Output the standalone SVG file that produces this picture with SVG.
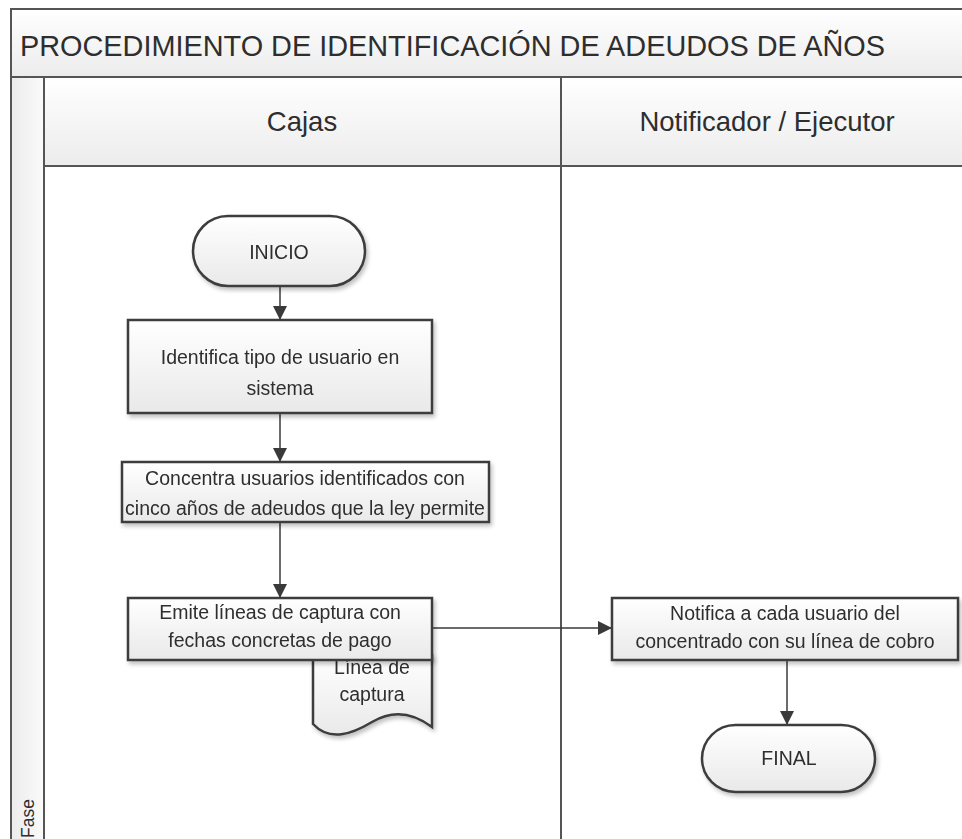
<svg xmlns="http://www.w3.org/2000/svg" width="962" height="839" viewBox="0 0 962 839">
<defs>
<linearGradient id="gv" x1="0" y1="0" x2="0" y2="1"><stop offset="0" stop-color="#ffffff"/><stop offset="1" stop-color="#ececec"/></linearGradient>
<linearGradient id="gh" x1="0" y1="0" x2="1" y2="0"><stop offset="0" stop-color="#ececec"/><stop offset="1" stop-color="#fafafa"/></linearGradient>
<linearGradient id="gn" x1="0" y1="0" x2="0" y2="1"><stop offset="0" stop-color="#ffffff"/><stop offset="1" stop-color="#e9e9e9"/></linearGradient>
<marker id="arr" viewBox="0 0 14 14" refX="14" refY="7" markerWidth="14" markerHeight="14" markerUnits="userSpaceOnUse" orient="auto"><path d="M0,0 L14,7 L0,14 Z" fill="#3a3a3a"/></marker>
<filter id="sh" x="-10%" y="-10%" width="130%" height="140%"><feGaussianBlur in="SourceAlpha" stdDeviation="2"/><feOffset dx="2" dy="3"/><feComponentTransfer><feFuncA type="linear" slope="0.25"/></feComponentTransfer><feMerge><feMergeNode/><feMergeNode in="SourceGraphic"/></feMerge></filter>
</defs>
<style>
.frame{stroke:#555;stroke-width:2;}
.box{fill:url(#gn);stroke:#3c3c3c;stroke-width:2.5;}
.t{font-family:"Liberation Sans",Arial,sans-serif;fill:#2e2e2e;}
.n{font-size:19.5px;text-anchor:middle;}
.h{font-size:27.5px;text-anchor:middle;}
.c{stroke:#3a3a3a;stroke-width:1.5;fill:none;marker-end:url(#arr);}
</style>
<rect width="962" height="839" fill="#ffffff"/>
<g id="pool">
<rect x="11" y="9" width="960" height="68" fill="url(#gv)" class="frame"/>
<text class="t" x="20" y="56" font-size="29" textLength="865" lengthAdjust="spacingAndGlyphs">PROCEDIMIENTO DE IDENTIFICACIÓN DE ADEUDOS DE AÑOS</text>
<rect x="11" y="77" width="33" height="770" fill="url(#gh)" class="frame"/>
<rect x="44" y="77" width="517" height="89" fill="url(#gv)" class="frame"/>
<rect x="561" y="77" width="410" height="89" fill="url(#gv)" class="frame"/>
<line x1="561" y1="166" x2="561" y2="845" class="frame"/>
<text class="t h" x="302" y="131">Cajas</text>
<text class="t h" x="767" y="131">Notificador / Ejecutor</text>
<text class="t" transform="translate(34,838) rotate(-90)" font-size="17.5">Fase</text>
</g>
<g id="connectors">
<line x1="280" y1="286" x2="280" y2="320" class="c"/>
<line x1="280" y1="413" x2="280" y2="462" class="c"/>
<line x1="280" y1="522" x2="280" y2="598" class="c"/>
<line x1="432" y1="628" x2="612" y2="628" class="c"/>
<line x1="787" y1="660" x2="787" y2="725" class="c"/>
</g>
<g id="inicio" filter="url(#sh)">
<rect x="193" y="216" width="172" height="70" rx="35" class="box"/>
<text class="t n" x="279" y="259" font-size="18">INICIO</text>
</g>
<g id="identifica" filter="url(#sh)">
<rect x="128" y="320" width="304" height="93" class="box"/>
<text class="t n" x="280" y="364">Identifica tipo de usuario en</text>
<text class="t n" x="280" y="395">sistema</text>
</g>
<g id="concentra" filter="url(#sh)">
<rect x="122" y="462" width="367" height="60" class="box"/>
<text class="t n" x="305" y="485">Concentra usuarios identificados con</text>
<text class="t n" x="305" y="515">cinco años de adeudos que la ley permite</text>
</g>
<g id="linea" filter="url(#sh)">
<path d="M313,655 H432 V727 C412,712 392,710 372,722 C352,734 330,742 313,724 Z" class="box"/>
<text class="t n" x="372" y="674">Línea de</text>
<text class="t n" x="372" y="701">captura</text>
</g>
<g id="emite" filter="url(#sh)">
<rect x="128" y="598" width="304" height="62" class="box"/>
<text class="t n" x="280" y="619">Emite líneas de captura con</text>
<text class="t n" x="280" y="647">fechas concretas de pago</text>
</g>
<g id="notifica" filter="url(#sh)">
<rect x="612" y="598" width="346" height="62" class="box"/>
<text class="t n" x="785" y="620">Notifica a cada usuario del</text>
<text class="t n" x="785" y="648">concentrado con su línea de cobro</text>
</g>
<g id="final" filter="url(#sh)">
<rect x="702" y="725" width="173" height="67" rx="33.5" class="box"/>
<text class="t n" x="789" y="765" font-size="18">FINAL</text>
</g>
</svg>
